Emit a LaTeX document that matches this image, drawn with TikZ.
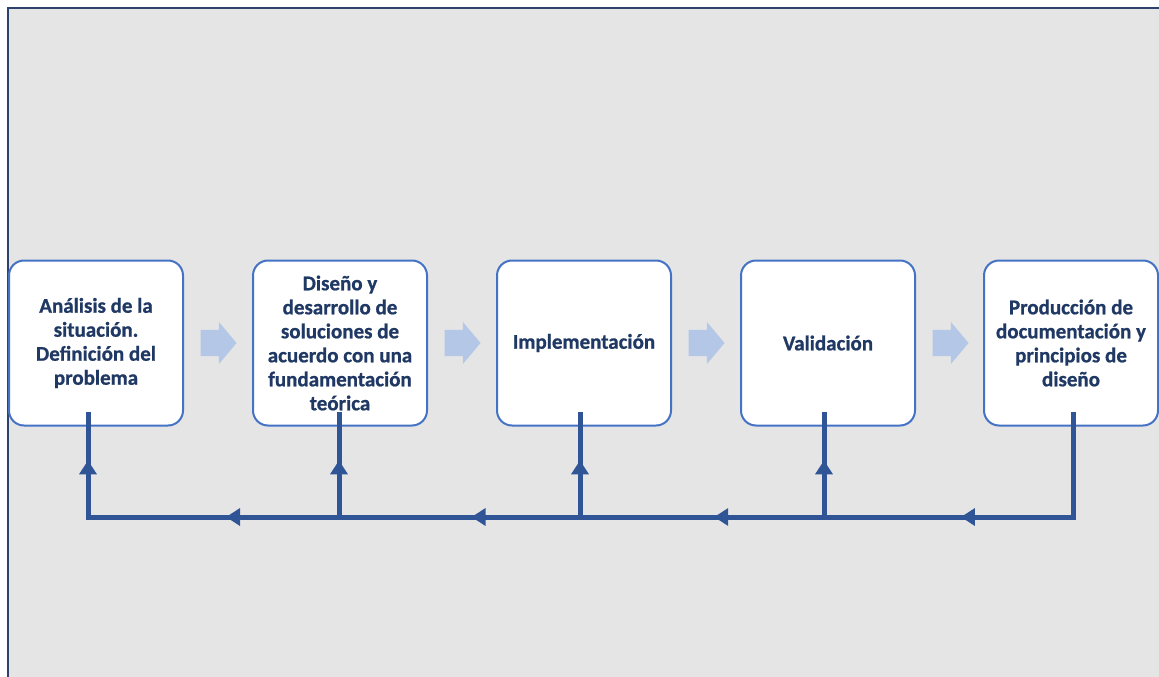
\documentclass[tikz,border=0pt]{standalone}
\usepackage{fontspec}
\setmainfont{Carlito}
\newfontfamily\boxfont{Carlito Bold}[FakeBold=0.8]
\usetikzlibrary{shapes.arrows}
\usetikzlibrary{arrows.meta}
\usetikzlibrary{decorations.markings}
\definecolor{frameblue}{HTML}{2E4272}
\definecolor{boxblue}{HTML}{4472C4}
\definecolor{lineblue}{HTML}{2F5597}
\definecolor{textnavy}{HTML}{1F3864}
\definecolor{arrowblue}{HTML}{B4C7E7}
\definecolor{bggray}{HTML}{E5E5E5}
\tikzset{
    stepbox/.style = {rectangle, rounded corners=15pt, line width=2pt, draw=boxblue, fill=white, minimum width=174pt, minimum height=165pt, align=center, text=textnavy, font=\boxfont\fontsize{21}{24}\selectfont, inner sep=2pt},
    fwd/.style = {single arrow, fill=arrowblue, draw=none, minimum height=36pt, inner xsep=0pt, inner ysep=13pt, single arrow head extend=8pt, single arrow tip angle=100},
    edgeb/.style = {line width=5pt, color=lineblue, line cap=rect},
    edgeh/.style = {edgeb, postaction={decorate}, decoration={markings, mark=at position 0.45 with {\arrow{Triangle[width=17pt,length=14pt]}}}}, % back
    edgev/.style = {edgeb, postaction={decorate}, decoration={markings, mark=at position 0.55 with {\arrow{Triangle[width=17pt,length=14pt]}}}}, % up
}

\begin{document}
\begin{tikzpicture}[x=1pt,y=-1pt]
\useasboundingbox (0,0) rectangle (1159,677);
\clip (0,0) rectangle (1159,677);
\fill[bggray] (8,8) rectangle (1180,700);
\draw[frameblue, line width=1.5pt] (8,8) rectangle (1180,700);
%
\node[stepbox] at (96,343) (b1) {Análisis de la\\situación.\\Definición del\\problema};
\node[stepbox] at (340,343) (b2) {Diseño y\\desarrollo de\\soluciones de\\acuerdo con una\\fundamentación\\teórica};
\node[stepbox] at (584,343) (b3) {Implementación};
\node[stepbox] at (828,343) (b4) {Validación};
\node[stepbox] at (1071,343) (b5) {Producción de\\documentación y\\principios de\\diseño};
%
\node[fwd] at (213,343) (f1) {};
\node[fwd] at (457,343) (f2) {};
\node[fwd] at (701,343) (f3) {};
\node[fwd] at (945,343) (f4) {};
%
\coordinate (t1) at (88,414);
\coordinate (t2) at (339,414);
\coordinate (t3) at (580,414);
\coordinate (t4) at (824,414);
\coordinate (t5) at (1073,414);
\coordinate (c1) at (88,517);
\coordinate (c2) at (339,517);
\coordinate (c3) at (580,517);
\coordinate (c4) at (824,517);
\coordinate (c5) at (1073,517);
%
\draw[edgeb] (t5) -- (c5);
\draw[edgeh] (c5) -- (c4);
\draw[edgeh] (c4) -- (c3);
\draw[edgeh] (c3) -- (c2);
\draw[edgeh] (c2) -- (c1);
\draw[edgev] (c1) -- (t1);
\draw[edgev] (c2) -- (t2);
\draw[edgev] (c3) -- (t3);
\draw[edgev] (c4) -- (t4);

\end{tikzpicture}
\end{document}
